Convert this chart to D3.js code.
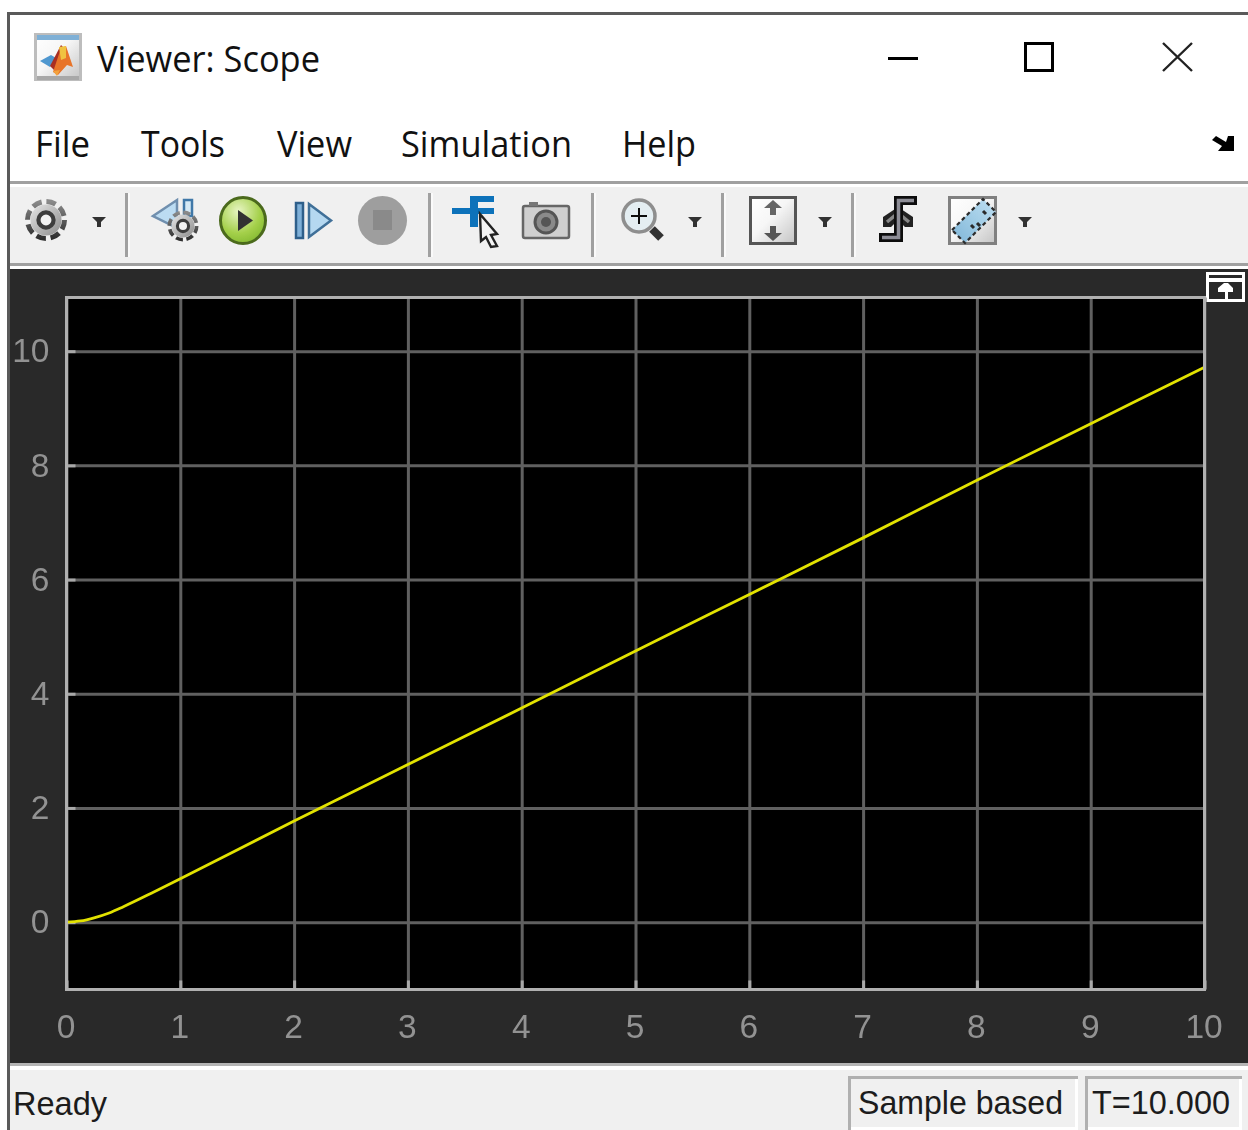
<!DOCTYPE html>
<html>
<head>
<meta charset="utf-8">
<title>Viewer: Scope</title>
<script src="https://cdn.jsdelivr.net/npm/d3@7"></script>
<style>
  html, body { margin: 0; padding: 0; background: #fff; overflow: hidden; }
  svg { display: block; }
  .ui { font-family: "Open Sans", "Noto Sans", sans-serif; fill: #111; }
  .status { font-family: "Liberation Sans", Arial, sans-serif; fill: #1c1c1c; font-size: 33px; }
  .tick text { font-family: "Liberation Sans", Arial, sans-serif; font-size: 33.5px; fill: #929292; }
</style>
</head>
<body>
<svg id="scope" width="1248" height="1130"></svg>
<script>
const time = [0, 0.125, 0.25, 0.375, 0.5, 0.75, 1, 2, 3, 4, 5, 6, 7, 8, 9, 10];
const output = [0, 0.02, 0.08, 0.16, 0.27, 0.51, 0.76, 1.77, 2.76, 3.75, 4.75, 5.74, 6.73, 7.74, 8.73, 9.72];
const xTicks = [0, 1, 2, 3, 4, 5, 6, 7, 8, 9, 10];
const yTicks = [0, 2, 4, 6, 8, 10];
const menuItems = ["File", "Tools", "View", "Simulation", "Help"];
const menuLeft = [35, 141, 277, 401, 622];
const menuWidth = [55, 84, 75, 171, 74];

const svg = d3.select("#scope");

function box(x, y, w, h, fill, parent = svg) {
    return parent.append("rect").attr("x", x).attr("y", y).attr("width", w).attr("height", h).attr("fill", fill);
}
function gradient(id, stops, x1 = 0, y1 = 0, x2 = 1, y2 = 1) {
    const g = defs.append("linearGradient").attr("id", id)
        .attr("x1", x1).attr("y1", y1).attr("x2", x2).attr("y2", y2);
    stops.forEach(s => g.append("stop").attr("offset", s[0]).attr("stop-color", s[1]));
}

const defs = svg.append("defs");
defs.append("filter").attr("id", "soft").append("feGaussianBlur").attr("stdDeviation", 0.6);
defs.append("filter").attr("id", "softer").append("feGaussianBlur").attr("stdDeviation", 0.45);
gradient("iconBg", [[0, "#ffffff"], [0.45, "#f6f6f6"], [1, "#c4c4c4"]]);
gradient("gearBody", [[0, "#e6e6e6"], [0.55, "#b4b4b4"], [1, "#8c8c8c"]]);
gradient("gearTeeth", [[0, "#8a8a8a"], [1, "#2e2e2e"]], 0, 0, 0, 1);
gradient("rulerFill", [[0, "#bfe0f2"], [1, "#7fb6d8"]], 1, 0, 0, 1);

// window chrome
box(7, 12, 1241, 3, "#5a5a5a");
box(7, 12, 3, 1118, "#5a5a5a");
box(10, 181, 1238, 3, "#a0a0a0");
box(10, 187, 1238, 76, "#f0f0f0");
box(10, 263, 1238, 3, "#a0a0a0");
box(10, 269, 1238, 794, "#292929");
box(10, 1063, 1238, 3, "#b4b4b4");
box(10, 1070, 1238, 60, "#f0f0f0");

// title bar
const matlab = svg.append("g").attr("filter", "url(#soft)");
matlab.append("rect").attr("x", 35.5).attr("y", 34.5).attr("width", 45).attr("height", 45)
    .attr("fill", "url(#iconBg)").attr("stroke", "#bdbdbd").attr("stroke-width", 3);
box(37, 35, 42, 5, "#7fb0d6", matlab);
box(37, 76, 42, 4, "#a8a8a8", matlab);
matlab.append("path").attr("d", "M40 61 L51 55 L56 58 L50 67 Z").attr("fill", "#4f97cf");
matlab.append("path").attr("d", "M50 66 L61 45 L66 50 L67 60 L56 72 Z").attr("fill", "#a82f22");
matlab.append("path").attr("d", "M61 48 L66 46 L73 67 L67 65 L58 75 L53 72 Z").attr("fill", "#e8742a");
matlab.append("path").attr("d", "M59 47 L66 46 L66 58 L61 60 Z").attr("fill", "#f0c340");
matlab.append("path").attr("d", "M53 71 L60 70 L57 76 Z").attr("fill", "#f2a23c");

svg.append("text").attr("class", "ui").attr("x", 97).attr("y", 72)
    .attr("font-size", 37).attr("textLength", 223).attr("lengthAdjust", "spacingAndGlyphs")
    .text("Viewer: Scope");

box(888, 57, 30, 3, "#000");
svg.append("rect").attr("x", 1025.5).attr("y", 43.5).attr("width", 27).attr("height", 27)
    .attr("fill", "none").attr("stroke", "#000").attr("stroke-width", 3);
svg.append("path").attr("d", "M1163 43 L1192 71 M1192 43 L1163 71")
    .attr("stroke", "#222").attr("stroke-width", 2.4).attr("fill", "none");

// menu bar
svg.selectAll(".menu").data(menuItems).enter().append("text")
    .attr("class", "ui menu")
    .attr("x", (d, i) => menuLeft[i]).attr("y", 157)
    .attr("font-size", 37)
    .attr("textLength", (d, i) => menuWidth[i]).attr("lengthAdjust", "spacingAndGlyphs")
    .text(d => d);
svg.append("path").attr("d", "M1234 136 V151 H1218 L1222 146 L1212 140 L1216 136 L1226 142 L1228 136 Z").attr("fill", "#000");

// toolbar separators
[126, 429, 592, 722, 852].forEach(x => {
    box(x - 1, 193, 3, 64, "#a0a0a0");
    box(x + 2, 193, 2, 64, "#fafafa");
});

const icons = svg.append("g").attr("filter", "url(#softer)");

// dropdown arrows
[99, 695, 825, 1025].forEach(x => {
    icons.append("path").attr("d", `M${x - 7} 217 H${x + 7} L${x + 2} 222 V227 H${x - 2} V222 Z`).attr("fill", "#333");
});

function gear(cx, cy, r) {
    const g = icons.append("g").attr("transform", `translate(${cx},${cy})`);
    g.append("circle").attr("r", r * 0.88).attr("fill", "none").attr("stroke", "url(#gearTeeth)")
        .attr("stroke-width", r * 0.24).attr("stroke-dasharray", `${r * 0.46} ${r * 0.23}`);
    g.append("circle").attr("r", r * 0.74).attr("fill", "url(#gearBody)");
    g.append("circle").attr("r", r * 0.36).attr("fill", "#f2f2f2").attr("stroke", "#3c3c3c").attr("stroke-width", r * 0.2);
}
gear(46, 220, 21);

// step back
icons.append("path").attr("d", "M153 216 L177 200 V228 Z").attr("fill", "#bcdcf2").attr("stroke", "#6f8fae").attr("stroke-width", 2.5);
icons.append("rect").attr("x", 184).attr("y", 200).attr("width", 8).attr("height", 16).attr("fill", "#d6eaf6").attr("stroke", "#3f78a8").attr("stroke-width", 2.5);
gear(183, 226, 15.5);

// play
const playFill = defs.append("radialGradient").attr("id", "playFill").attr("cx", 0.4).attr("cy", 0.3).attr("r", 0.8);
playFill.append("stop").attr("offset", 0).attr("stop-color", "#e8f5c4");
playFill.append("stop").attr("offset", 0.6).attr("stop-color", "#a4d04a");
playFill.append("stop").attr("offset", 1).attr("stop-color", "#7db52c");
icons.append("ellipse").attr("cx", 243).attr("cy", 220.5).attr("rx", 22.5).attr("ry", 23)
    .attr("fill", "url(#playFill)").attr("stroke", "#4b6a1f").attr("stroke-width", 3);
icons.append("path").attr("d", "M238 210 L253 220.5 L238 231 Z").attr("fill", "#333");

// step forward
icons.append("rect").attr("x", 296).attr("y", 203).attr("width", 7).attr("height", 35).attr("fill", "#7fb0d8").attr("stroke", "#2f5f8a").attr("stroke-width", 2.5);
icons.append("path").attr("d", "M309 204 L331 220.5 L309 237 Z").attr("fill", "#b5d8f0").attr("stroke", "#3f6f98").attr("stroke-width", 2.5);

// stop
icons.append("ellipse").attr("cx", 382.5).attr("cy", 220.5).attr("rx", 24.5).attr("ry", 24.5).attr("fill", "#9e9e9e");
box(373, 210, 19, 20, "#8a8a8a", icons);

// signal selector
box(452, 208, 42, 6, "#0a72ba", icons);
box(470, 196, 24, 6, "#0a72ba", icons);
box(470, 196, 8, 31, "#0a72ba", icons);
icons.append("path").attr("d", "M480 214 L497 234 L491 235 L497 246 L491 247 L486 237 L481 241 Z")
    .attr("fill", "#f4f4f4").attr("stroke", "#222").attr("stroke-width", 2.4);

// camera
icons.append("rect").attr("x", 523).attr("y", 206).attr("width", 46).attr("height", 32).attr("rx", 2)
    .attr("fill", "#cfcfcf").attr("stroke", "#666").attr("stroke-width", 2.5);
box(529, 202, 9, 4, "#777", icons);
icons.append("circle").attr("cx", 546).attr("cy", 222).attr("r", 11).attr("fill", "#8a8a8a").attr("stroke", "#555").attr("stroke-width", 3);
icons.append("circle").attr("cx", 546).attr("cy", 222).attr("r", 5).attr("fill", "#555");

// zoom
icons.append("path").attr("d", "M652 229 L661 238").attr("stroke", "#333").attr("stroke-width", 8);
icons.append("circle").attr("cx", 639).attr("cy", 216).attr("r", 16).attr("fill", "#e4eef2").attr("stroke", "#8e8e8e").attr("stroke-width", 3.5);
icons.append("path").attr("d", "M631 216 H647 M639 208 V224").attr("stroke", "#111").attr("stroke-width", 2);

// scale axes
icons.append("rect").attr("x", 750.5).attr("y", 197.5).attr("width", 45).attr("height", 46)
    .attr("fill", "url(#iconBg)").attr("stroke", "#555").attr("stroke-width", 3);
icons.append("path").attr("d", "M764 208 L773 200 L782 208 H776 V215 H770 V208 Z").attr("fill", "#666");
icons.append("path").attr("d", "M764 233 L773 241 L782 233 H776 V226 H770 V233 Z").attr("fill", "#555");

// triggers
icons.append("path").attr("d", "M883 227 V217 L898 207 L913 217 V227 H905 L898 220 L891 227 Z").attr("fill", "#222");
icons.append("path").attr("d", "M887 222 L898 213 L909 222").attr("fill", "none").attr("stroke", "#888").attr("stroke-width", 3.5);
icons.append("path").attr("d", "M879 237.5 H898.5 V200.5 H917").attr("fill", "none").attr("stroke", "#111").attr("stroke-width", 9);
icons.append("path").attr("d", "M882 237.5 H898.5 V200.5 H914").attr("fill", "none").attr("stroke", "#8d8d96").attr("stroke-width", 3.5);

// measurements
icons.append("rect").attr("x", 949.5).attr("y", 197.5).attr("width", 46).attr("height", 46)
    .attr("fill", "url(#iconBg)").attr("stroke", "#808080").attr("stroke-width", 3);
icons.append("path").attr("d", "M952 230 L983 199 L996 212 L965 243 Z").attr("fill", "url(#rulerFill)")
    .attr("stroke", "#2c2c2c").attr("stroke-width", 2.2).attr("stroke-dasharray", "4 3");
icons.append("path").attr("d", "M983 211 l3 3 M977 223 l3 3 M971 225 l3 3").attr("stroke", "#2c2c2c").attr("stroke-width", 3);

// undock button
box(1206, 272, 39, 30, "#fff");
box(1209, 275, 33, 3, "#292929");
box(1209, 282, 33, 17, "#292929");
svg.append("path").attr("d", "M1218 292 V288 L1224 283 H1228 L1233 288 V292 H1228 V299 H1225 V292 Z").attr("fill", "#fff");

// plot
const x = d3.scaleLinear().domain([0, 10]).range([66.5, 1204.5]);
const y = d3.scaleLinear().domain([-1.18, 10.94]).range([989.5, 297.5]);
const plotW = x.range()[1] - x.range()[0];
const plotH = y.range()[0] - y.range()[1];

box(x(0), y(10.94), plotW, plotH, "#000");

const xGrid = svg.append("g").attr("transform", `translate(0,${y.range()[0]})`)
    .call(d3.axisBottom(x).tickValues(xTicks).tickSize(-plotH).tickFormat(""));
const yGrid = svg.append("g").attr("transform", `translate(${x.range()[0]},0)`)
    .call(d3.axisLeft(y).tickValues(yTicks).tickSize(-plotW).tickFormat(""));
[xGrid, yGrid].forEach(g => {
    g.select(".domain").remove();
    g.selectAll("line").attr("stroke", "#606060").attr("stroke-width", 3);
});

// short bright ticks inside the frame
const xInner = svg.append("g").attr("transform", `translate(0,${y.range()[0]})`)
    .call(d3.axisBottom(x).tickValues(xTicks).tickSize(-9).tickFormat(""));
const yInner = svg.append("g").attr("transform", `translate(${x.range()[0]},0)`)
    .call(d3.axisLeft(y).tickValues(yTicks).tickSize(-9).tickFormat(""));
[xInner, yInner].forEach(g => {
    g.select(".domain").remove();
    g.selectAll("line").attr("stroke", "#a8a8a8").attr("stroke-width", 3);
});

const line = d3.line().x((d, i) => x(time[i])).y(d => y(d)).curve(d3.curveMonotoneX);
svg.append("path").datum(output).attr("d", line)
    .attr("fill", "none").attr("stroke", "#e2e200").attr("stroke-width", 2.8);

svg.append("rect").attr("x", x(0)).attr("y", y(10.94)).attr("width", plotW).attr("height", plotH)
    .attr("fill", "none").attr("stroke", "#b0b0b0").attr("stroke-width", 3);

// tick labels
const xLabels = svg.append("g").attr("transform", `translate(-1,${y.range()[0]})`)
    .call(d3.axisBottom(x).tickValues(xTicks).tickSize(0).tickPadding(25));
const yLabels = svg.append("g").attr("transform", `translate(${x.range()[0]},0)`)
    .call(d3.axisLeft(y).tickValues(yTicks).tickSize(0).tickPadding(17));
[xLabels, yLabels].forEach(g => {
    g.select(".domain").remove();
    g.attr("font-family", null).attr("font-size", null).attr("filter", "url(#softer)");
});

// status bar
svg.append("text").attr("class", "status").attr("x", 13).attr("y", 1115)
    .attr("textLength", 94).attr("lengthAdjust", "spacingAndGlyphs").text("Ready");

function statusCell(left, right, label, textX, textW) {
    box(left, 1076, right - left, 54, "#fff");
    box(left, 1076, right - left, 3, "#b0b0b0");
    box(left, 1076, 3, 54, "#b0b0b0");
    box(left + 3, 1079, right - left - 6, 48, "#f0f0f0");
    svg.append("text").attr("class", "status").attr("x", textX).attr("y", 1114)
        .attr("textLength", textW).attr("lengthAdjust", "spacingAndGlyphs").text(label);
}
statusCell(848, 1078, "Sample based", 858, 205);
statusCell(1085, 1242, "T=10.000", 1092, 138);
</script>
</body>
</html>
